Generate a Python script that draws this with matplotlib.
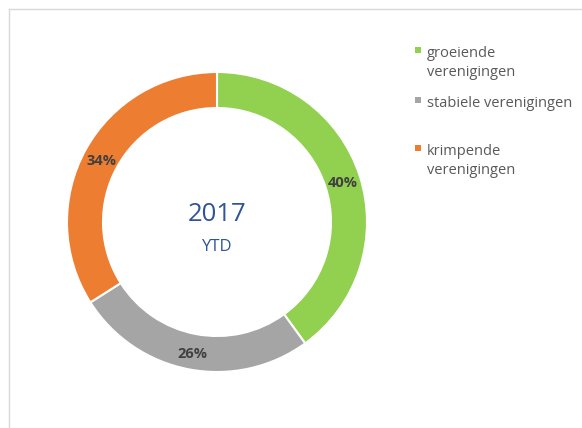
import numpy as np
import matplotlib.pyplot as plt
from matplotlib.patches import Rectangle
from matplotlib.lines import Line2D

labels = ['groeiende\nverenigingen', 'stabiele verenigingen', 'krimpende\nverenigingen']
values = [40, 26, 34]
colors = ['#92D050', '#A5A5A5', '#ED7D31']

W, H = 582, 428
fig = plt.figure(figsize=(W / 100, H / 100), dpi=100)
plt.rcParams['font.family'] = ['Open Sans', 'DejaVu Sans']

# chart area border (only left and top edges visible)
fig.add_artist(Line2D([8.5 / W, 8.5 / W], [0, 1 - 8.5 / H], color='#d9d9d9', lw=1))
fig.add_artist(Line2D([8.5 / W, 1], [1 - 8.5 / H, 1 - 8.5 / H], color='#d9d9d9', lw=1))

# donut axes: center (217,222), radius 150 px
cx, cy, r = 217, 222, 150
ax = fig.add_axes([(cx - r) / W, 1 - (cy + r) / H, 2 * r / W, 2 * r / H])
wedges, _ = ax.pie(values, colors=colors, startangle=90, counterclock=False,
                   radius=1, wedgeprops=dict(width=0.24, edgecolor='white', linewidth=1.5))
ax.set_xlim(-1, 1)
ax.set_ylim(-1, 1)
ax.set_aspect('equal')
ax.axis('off')

start = 90
for v in values:
    mid = start - v * 3.6 / 2
    rr = 0.88
    ax.text(rr * np.cos(np.radians(mid)), rr * np.sin(np.radians(mid)) - 0.015, f'{v}%',
            ha='center', va='center', fontsize=10.5, fontweight='bold', color='#404040')
    start -= v * 3.6

ax.text(0, 0.05, '2017', ha='center', va='center', fontsize=18.5, color='#2F5597')
ax.text(0, -0.17, 'YTD', ha='center', va='center', fontsize=12, color='#2F5597')

# legend
ys = [50, 100, 148]
for lab, col, y in zip(labels, colors, ys):
    fig.add_artist(Rectangle(((418 - 3) / W, 1 - (y + 3) / H), 6 / W, 6 / H,
                             facecolor=col, edgecolor='none'))
    fig.text(427 / W, 1 - (y - 4) / H, lab, ha='left', va='top', fontsize=10.5,
             color='#595959', linespacing=1.35)

fig.savefig('out.png', dpi=100)
